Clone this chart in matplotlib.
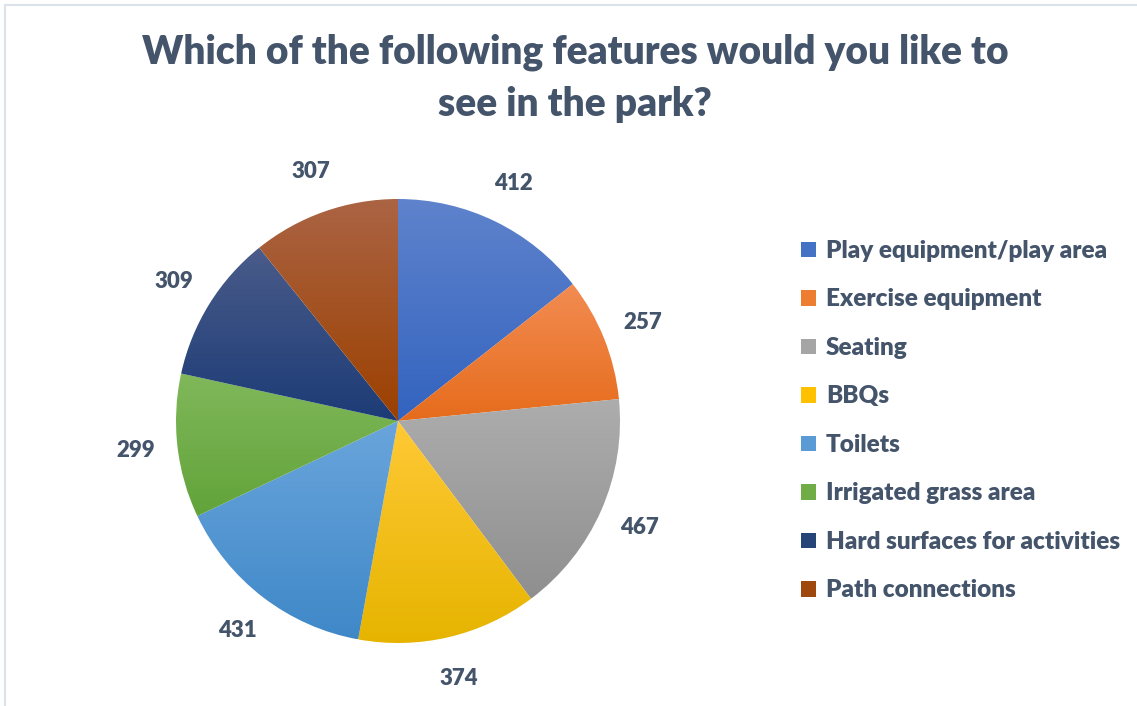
import numpy as np
import matplotlib
matplotlib.use("Agg")
import matplotlib.pyplot as plt
from matplotlib.colors import LinearSegmentedColormap
from matplotlib.patches import Rectangle

# Data
categories = ["Play equipment/play area", "Exercise equipment", "Seating", "BBQs",
              "Toilets", "Irrigated grass area", "Hard surfaces for activities",
              "Path connections"]
values = [412, 257, 467, 374, 431, 299, 309, 307]
title = "Which of the following features would you like to\nsee in the park?"

# gradient colours per slice (top, bottom)
top_colors = ["#5f83cc", "#f28c52", "#adadad", "#ffc936", "#6aa5dc", "#80b85a", "#4a5c8a", "#ab6444"]
bot_colors = ["#3363bf", "#e66c1c", "#8f8f8f", "#e6b400", "#3f88c8", "#62a33a", "#1c3b76", "#9c4000"]
mid_colors = ["#4472c4", "#ed7d31", "#a5a5a5", "#ffc000", "#5b9bd5", "#70ad47", "#264478", "#9e480e"]

text_color = "#44546a"
plt.rcParams["font.family"] = ["Lato", "DejaVu Sans"]
WEIGHT = 800

W, H = 1137, 706
fig = plt.figure(figsize=(W / 100, H / 100), dpi=100)

# chart border
fig.patches.append(Rectangle((5 / W, -0.05), 1.1, (H - 5) / H + 0.05, transform=fig.transFigure,
                             fill=False, edgecolor="#dce2ea", linewidth=1.5))

# pie axes: centre (398, 421) px, radius 222 px
lim = 1.25
side = 2 * lim * 222
cx, cy = 398, H - 421
ax = fig.add_axes([(cx - side / 2) / W, (cy - side / 2) / H, side / W, side / H])

wedges, _ = ax.pie(values, startangle=90, counterclock=False, radius=1,
                   wedgeprops=dict(linewidth=0))

total = float(sum(values))
ang = 90.0
for i, w in enumerate(wedges):
    span = values[i] / total * 360
    mid = np.deg2rad(ang - span / 2)
    ang -= span
    # gradient fill clipped to the wedge
    bb = w.get_path().get_extents(w.get_patch_transform())
    cmap = LinearSegmentedColormap.from_list("g%d" % i, [bot_colors[i], top_colors[i]])
    grad = np.linspace(0, 1, 256).reshape(-1, 1)
    w.set_facecolor("none")
    im = ax.imshow(grad, cmap=cmap, extent=(bb.x0, bb.x1, bb.y0, bb.y1), origin="lower",
                   aspect="auto", interpolation="bicubic", zorder=1)
    im.set_clip_path(w)
    ax.text(1.19 * np.cos(mid), 1.19 * np.sin(mid), str(values[i]), ha="center", va="center",
            fontsize=16, fontweight=WEIGHT, color=text_color)

ax.set_xlim(-lim, lim)
ax.set_ylim(-lim, lim)
ax.set_aspect("equal")
ax.axis("off")

fig.text(575 / W, 1 - 78 / H, title, ha="center", va="center", fontsize=28,
         fontweight=WEIGHT, color=text_color, linespacing=1.5)

handles = [Rectangle((0, 0), 1, 1, facecolor=c) for c in mid_colors]
leg = fig.legend(handles, categories, loc="upper left", bbox_to_anchor=(801 / W, 1 - 240 / H),
                 frameon=False, prop=dict(size=17.5, weight=WEIGHT), labelcolor=text_color,
                 handlelength=0.62, handleheight=0.62, handletextpad=0.4, labelspacing=1.09,
                 borderaxespad=0, borderpad=0)

fig.savefig("out.png", dpi=100, facecolor="white")
